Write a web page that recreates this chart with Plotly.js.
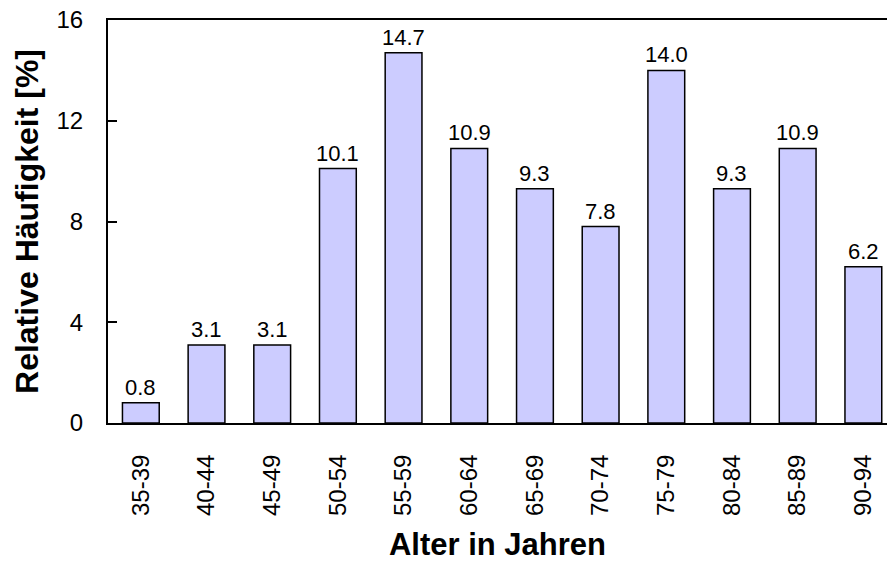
<!DOCTYPE html>
<html>
<head>
<meta charset="utf-8">
<script src="https://cdn.plot.ly/plotly-3.0.1.min.js"></script>
<style>html,body{margin:0;padding:0;background:#fff;}#chart{width:887px;height:562px;}</style>
</head>
<body>
<div id="chart"></div>
<script>
const categories = ["35-39","40-44","45-49","50-54","55-59","60-64","65-69","70-74","75-79","80-84","85-89","90-94"];
const values = [0.8, 3.1, 3.1, 10.1, 14.7, 10.9, 9.3, 7.8, 14.0, 9.3, 10.9, 6.2];
const yTicks = [0, 4, 8, 12, 16];
const xTitle = "Alter in Jahren";
const yTitle = "Relative Häufigkeit [%]";

const font = "Arial, 'Liberation Sans', sans-serif";

const trace = {
  type: "bar",
  x: categories,
  y: values,
  width: 0.56,
  marker: {color: "#ccccff", line: {color: "#000", width: 1.5}},
  hoverinfo: "none"
};

const annotations = categories.map((c, i) => ({
  x: c, y: values[i], xref: "x", yref: "y",
  text: values[i].toFixed(1), showarrow: false,
  yanchor: "bottom", yshift: 1,
  font: {family: font, size: 22, color: "#000"}
}));

const layout = {
  width: 887, height: 562,
  margin: {l: 108, r: 0, t: 20, b: 139},
  paper_bgcolor: "#fff", plot_bgcolor: "#fff",
  showlegend: false,
  xaxis: {
    type: "category",
    range: [-0.5, 11.36],
    showgrid: false, zeroline: false,
    showline: true, linecolor: "#000", linewidth: 2, mirror: true,
    ticks: "", tickangle: -90,
    tickfont: {family: font, size: 24, color: "#000"},
    ticklabelstandoff: 20,
    title: {text: xTitle, font: {family: font, size: 31, color: "#000", weight: "bold"}, standoff: 18}
  },
  yaxis: {
    range: [0, 16],
    tickvals: yTicks,
    showgrid: false, zeroline: false,
    showline: true, linecolor: "#000", linewidth: 2,
    ticks: "inside", ticklen: 9, tickwidth: 2, tickcolor: "#000",
    tickfont: {family: font, size: 24, color: "#000"},
    ticklabelstandoff: 18,
    title: {text: yTitle, font: {family: font, size: 32, color: "#000", weight: "bold"}, standoff: 8}
  },
  annotations: annotations
};

Plotly.newPlot("chart", [trace], layout, {displayModeBar: false, staticPlot: true});
</script>
</body>
</html>
